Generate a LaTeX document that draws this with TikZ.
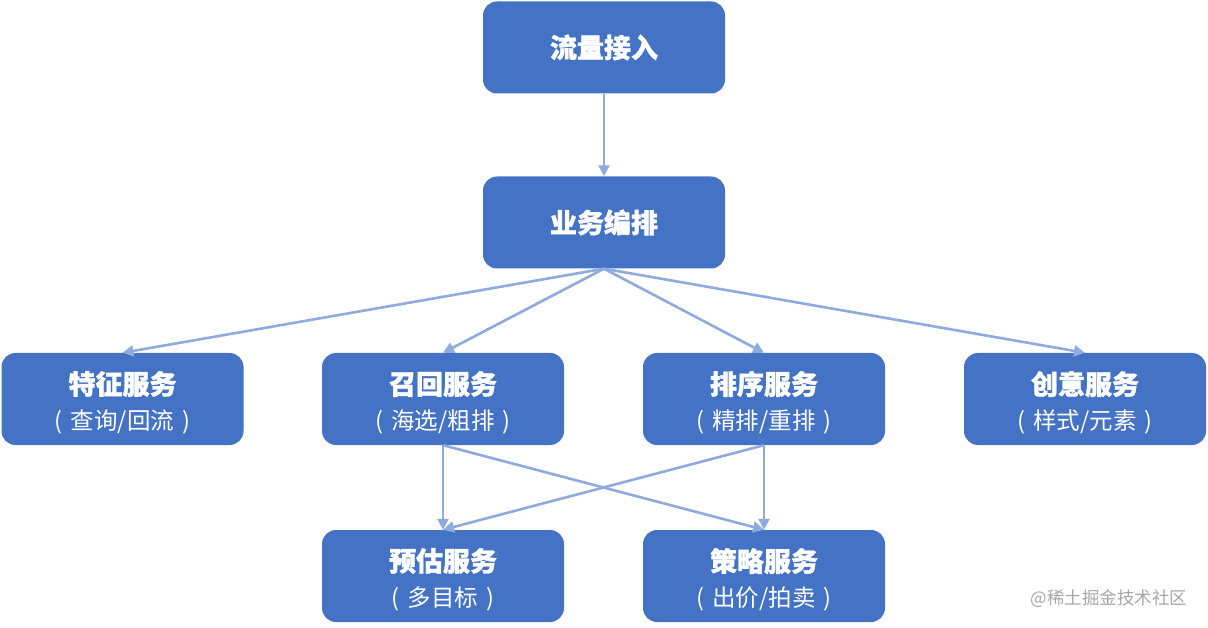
\documentclass[tikz,border=0pt]{standalone}
\usepackage{fontspec}
\setmainfont{Noto Sans CJK SC}[BoldFeatures={FakeBold=1.2}]
\usetikzlibrary{arrows.meta}
\definecolor{boxblue}{HTML}{4472C4}
\definecolor{arrowblue}{HTML}{8FAADC}
\definecolor{wmgray}{HTML}{A6A6A6}
\newcommand{\sbr}[1]{(\hspace{8pt}#1\hspace{8pt})}
\tikzset{
  box/.style={draw=none, fill=boxblue, rounded corners=14pt, minimum width=242pt, minimum height=92pt, inner sep=0pt},
  ttl/.style={text=white, font=\fontsize{27}{32}\selectfont\bfseries, inner sep=0pt},
  sub/.style={text=white, font=\fontsize{23.5}{28}\selectfont, inner sep=0pt},
  conn/.style={draw=arrowblue, line width=2.6pt, -{Triangle[length=11pt,width=11pt]}},
}
\begin{document}
\begin{tikzpicture}[x=1pt,y=-1pt]
\useasboundingbox (0,0) rectangle (1208,628);
% boxes
\node[box] (ll) at (604,47.5) {};
\node[ttl] (ll-t) at (ll.center) {流量接入};
\node[box] (yw) at (604,222.5) {};
\node[ttl] (yw-t) at (yw.center) {业务编排};
\node[box] (tz) at (122.5,399) {};
\node[ttl] (tz-t) at ([yshift=15pt]tz.center) {特征服务};
\node[sub] (tz-s) at ([yshift=-23pt]tz.center) {\sbr{查询/回流}};
\node[box] (zh) at (443,399) {};
\node[ttl] (zh-t) at ([yshift=15pt]zh.center) {召回服务};
\node[sub] (zh-s) at ([yshift=-23pt]zh.center) {\sbr{海选/粗排}};
\node[box] (px) at (764,399) {};
\node[ttl] (px-t) at ([yshift=15pt]px.center) {排序服务};
\node[sub] (px-s) at ([yshift=-23pt]px.center) {\sbr{精排/重排}};
\node[box] (cy) at (1085,399) {};
\node[ttl] (cy-t) at ([yshift=15pt]cy.center) {创意服务};
\node[sub] (cy-s) at ([yshift=-23pt]cy.center) {\sbr{样式/元素}};
\node[box] (yg) at (443,576) {};
\node[ttl] (yg-t) at ([yshift=15pt]yg.center) {预估服务};
\node[sub] (yg-s) at ([yshift=-23pt]yg.center) {\sbr{多目标}};
\node[box] (cl) at (764,576) {};
\node[ttl] (cl-t) at ([yshift=15pt]cl.center) {策略服务};
\node[sub] (cl-s) at ([yshift=-23pt]cl.center) {\sbr{出价/拍卖}};
% connectors
\draw[conn] (ll.south) -- (yw.north);
\draw[conn] (yw.south) -- (tz.north);
\draw[conn] (yw.south) -- (zh.north);
\draw[conn] (yw.south) -- (px.north);
\draw[conn] (yw.south) -- (cy.north);
\draw[conn] (zh.south) -- (yg.north);
\draw[conn] (zh.south) -- (cl.north);
\draw[conn] (px.south) -- (cl.north);
\draw[conn] (px.south) -- (yg.north);
% watermark
\node[text=wmgray, font=\fontsize{17.5}{20}\selectfont, anchor=center, inner sep=0pt] (wm) at (1109,599) {@稀土掘金技术社区};
\end{tikzpicture}
\end{document}
